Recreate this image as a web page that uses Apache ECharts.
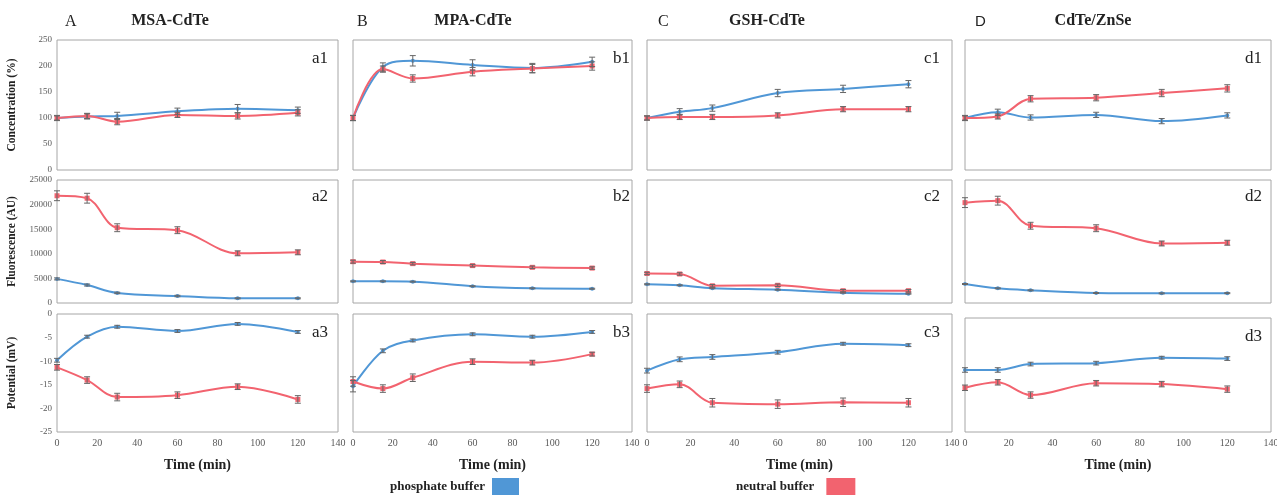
<!DOCTYPE html>
<html>
<head>
<meta charset="utf-8">
<script src="https://cdn.jsdelivr.net/npm/echarts@6/dist/echarts.min.js"></script>
<style>
  html, body { margin: 0; padding: 0; background: #fff; }
  #main { width: 1277px; height: 496px; }
</style>
</head>
<body>
<div id="main"></div>
<script>
// time points (min)
var times = [0, 15, 30, 60, 90, 120];
var panelLetters = ['A', 'B', 'C', 'D'];
var panelTitles = ['MSA-CdTe', 'MPA-CdTe', 'GSH-CdTe', 'CdTe/ZnSe'];
var rowNames = ['Concentration (%)', 'Fluorescence (AU)', 'Potential (mV)'];
var subLabels = [['a1', 'a2', 'a3'], ['b1', 'b2', 'b3'], ['c1', 'c2', 'c3'], ['d1', 'd2', 'd3']];

// row 1: concentration (%), one array per panel A..D
var concPhos = [[100, 103, 104, 113, 118, 115], [100, 198, 210, 202, 196, 208], [100, 112, 119, 148, 156, 165], [100, 111, 101, 106, 94, 105]];
var concNeut = [[100, 104, 93, 106, 104, 110], [100, 194, 176, 189, 195, 200], [100, 102, 102, 105, 117, 117], [100, 103, 137, 139, 148, 157]];
var concPhosErr = [[4, 5, 7, 6, 8, 6], [5, 8, 10, 10, 9, 9], [4, 6, 6, 7, 7, 7], [4, 6, 5, 5, 5, 5]];
var concNeutErr = [[5, 5, 6, 5, 6, 6], [5, 6, 7, 8, 8, 8], [4, 5, 5, 5, 5, 5], [5, 5, 6, 6, 7, 7]];

// row 2: fluorescence (AU)
var fluoPhos = [[4900, 3650, 2050, 1420, 950, 950], [4400, 4400, 4340, 3400, 2980, 2900], [3800, 3600, 3000, 2700, 2100, 1900], [3860, 2980, 2570, 2030, 1960, 2000]];
var fluoNeut = [[21800, 21300, 15300, 14800, 10100, 10300], [8400, 8330, 8000, 7600, 7250, 7100], [6000, 5900, 3500, 3600, 2500, 2500], [20400, 20800, 15700, 15200, 12100, 12250]];
var fluoPhosErr = [[200, 200, 150, 150, 100, 100], [100, 100, 100, 100, 100, 100], [100, 100, 100, 100, 100, 100], [100, 100, 100, 100, 100, 100]];
var fluoNeutErr = [[1000, 1000, 800, 700, 500, 500], [300, 300, 250, 250, 250, 250], [250, 250, 250, 250, 250, 250], [1000, 900, 700, 700, 500, 500]];

// row 3: potential (mV)
var potPhos = [[-9.8, -4.8, -2.7, -3.6, -2.1, -3.8], [-15.3, -7.8, -5.6, -4.3, -4.8, -3.8], [-12.0, -9.6, -9.1, -8.1, -6.3, -6.6], [-11.4, -11.4, -10.1, -9.9, -8.7, -8.9]];
var potNeut = [[-11.3, -14.0, -17.6, -17.2, -15.4, -18.1], [-14.3, -15.8, -13.5, -10.1, -10.3, -8.5], [-15.8, -14.9, -18.8, -19.1, -18.7, -18.8], [-15.3, -14.1, -16.9, -14.3, -14.5, -15.6]];
var potPhosErr = [[0.4, 0.3, 0.3, 0.3, 0.3, 0.3], [1.2, 0.4, 0.3, 0.3, 0.3, 0.3], [0.5, 0.5, 0.5, 0.4, 0.3, 0.3], [0.5, 0.5, 0.4, 0.4, 0.3, 0.4]];
var potNeutErr = [[0.6, 0.7, 0.8, 0.7, 0.6, 0.8], [1.0, 0.8, 0.8, 0.6, 0.5, 0.4], [0.8, 0.7, 0.9, 0.9, 0.9, 0.9], [0.6, 0.6, 0.7, 0.6, 0.6, 0.7]];

var phosValues = [concPhos, fluoPhos, potPhos];
var neutValues = [concNeut, fluoNeut, potNeut];
var phosErrs = [concPhosErr, fluoPhosErr, potPhosErr];
var neutErrs = [concNeutErr, fluoNeutErr, potNeutErr];

var BLUE = '#5097d6';
var RED = '#f2636f';
var SERIF = '"Liberation Serif", "Times New Roman", serif';

// layout
var colLeft = [57, 353, 647, 965];
var colWidth = [281, 279, 305, 306];
var rowTop = [40, 180, 314];
var rowHeight = [130, 123, 118];
var yRange = [[0, 250, 50], [0, 25000, 5000], [-25, 0, 5]];
var subRight = [328, 630, 940, 1262];
var subTop = [50, 188, 324];

var grids = [], xAxes = [], yAxes = [], series = [], graphics = [];

function errRender(params, api) {
  var x = api.value(0);
  var lo = api.coord([x, api.value(1)]);
  var hi = api.coord([x, api.value(2)]);
  var w = 3;
  var st = { stroke: '#666', lineWidth: 1 };
  return {
    type: 'group',
    children: [
      { type: 'line', shape: { x1: lo[0], y1: lo[1], x2: hi[0], y2: hi[1] }, style: st },
      { type: 'line', shape: { x1: lo[0] - w, y1: lo[1], x2: lo[0] + w, y2: lo[1] }, style: st },
      { type: 'line', shape: { x1: hi[0] - w, y1: hi[1], x2: hi[0] + w, y2: hi[1] }, style: st }
    ]
  };
}

function pairs(vals) {
  return times.map(function (t, i) { return [t, vals[i]]; });
}
function errData(vals, errs) {
  return times.map(function (t, i) { return [t, vals[i] - errs[i], vals[i] + errs[i]]; });
}

for (var c = 0; c < 4; c++) {
  for (var r = 0; r < 3; r++) {
    var g = grids.length;
    var gTop = rowTop[r], gH = rowHeight[r];
    if (c === 3 && r === 2) { gTop = 318; gH = 114; }
    grids.push({
      left: colLeft[c], top: gTop, width: colWidth[c], height: gH,
      outerBoundsMode: 'none',
      show: true, borderColor: '#a6a6a6', borderWidth: 1, backgroundColor: '#fff'
    });
    xAxes.push({
      type: 'value', gridIndex: g, min: 0, max: 140, interval: 20,
      axisLine: { show: false }, axisTick: { show: false }, splitLine: { show: false },
      axisLabel: { show: r === 2, color: '#595959', fontFamily: SERIF, fontSize: 10, margin: 6 },
      name: r === 2 ? 'Time (min)' : '', nameLocation: 'middle', nameGap: 26,
      nameTextStyle: { fontFamily: SERIF, fontWeight: 'bold', fontSize: 14, color: '#222' }
    });
    yAxes.push({
      type: 'value', gridIndex: g, min: yRange[r][0], max: yRange[r][1], interval: yRange[r][2],
      axisLine: { show: false }, axisTick: { show: false }, splitLine: { show: false },
      axisLabel: {
        show: c === 0, color: '#595959', fontFamily: SERIF, fontSize: 9, margin: 5,
        formatter: function (v) { return String(v); }
      },
      name: c === 0 ? rowNames[r] : '', nameLocation: 'middle', nameGap: 39,
      nameTextStyle: { fontFamily: SERIF, fontWeight: 'bold', fontSize: 11.5, color: '#222' }
    });
    series.push({
      name: 'phosphate buffer', type: 'line', xAxisIndex: g, yAxisIndex: g,
      data: pairs(phosValues[r][c]), smooth: 0.35, symbol: 'circle', symbolSize: 4,
      lineStyle: { color: BLUE, width: 2 }, itemStyle: { color: BLUE }, z: 3
    });
    series.push({
      name: 'neutral buffer', type: 'line', xAxisIndex: g, yAxisIndex: g,
      data: pairs(neutValues[r][c]), smooth: 0.35, symbol: 'rect', symbolSize: 5,
      lineStyle: { color: RED, width: 2 }, itemStyle: { color: RED }, z: 3
    });
    series.push({
      type: 'custom', xAxisIndex: g, yAxisIndex: g, renderItem: errRender,
      data: errData(phosValues[r][c], phosErrs[r][c]), encode: { x: 0, y: [1, 2] }, z: 4, silent: true
    });
    series.push({
      type: 'custom', xAxisIndex: g, yAxisIndex: g, renderItem: errRender,
      data: errData(neutValues[r][c], neutErrs[r][c]), encode: { x: 0, y: [1, 2] }, z: 4, silent: true
    });
    graphics.push({
      type: 'text', right: 1277 - subRight[c], top: subTop[r] + (c === 3 && r === 2 ? 4 : 0),
      style: { text: subLabels[c][r], font: '17px ' + SERIF, fill: '#222' }
    });
  }
}

var letterX = [65, 357, 658, 975];
var titleCenter = [170, 473, 767, 1093];
for (var i = 0; i < 4; i++) {
  graphics.push({
    type: 'text', left: letterX[i], top: 14,
    style: { text: panelLetters[i], font: (i === 3 ? '15px "Liberation Sans", sans-serif' : '16px ' + SERIF), fill: '#222' }
  });
  graphics.push({
    type: 'text', x: titleCenter[i], y: 13,
    style: { text: panelTitles[i], font: 'bold 16px ' + SERIF, fill: '#222', textAlign: 'center' }
  });
}

var chart = echarts.init(document.getElementById('main'));
chart.setOption({
  animation: false,
  grid: grids,
  xAxis: xAxes,
  yAxis: yAxes,
  series: series,
  legend: [
    {
      data: ['phosphate buffer'], left: 390, top: 478, padding: 0, align: 'right', icon: 'rect',
      itemWidth: 27, itemHeight: 17,
      textStyle: { fontFamily: SERIF, fontWeight: 'bold', fontSize: 13, color: '#222', padding: [0, 2, 0, 0] }
    },
    {
      data: ['neutral buffer'], left: 736, top: 478, padding: 0, align: 'right', icon: 'rect',
      itemWidth: 29, itemHeight: 17,
      textStyle: { fontFamily: SERIF, fontWeight: 'bold', fontSize: 13, color: '#222', padding: [0, 7, 0, 0] }
    }
  ],
  graphic: graphics
});
</script>
</body>
</html>
